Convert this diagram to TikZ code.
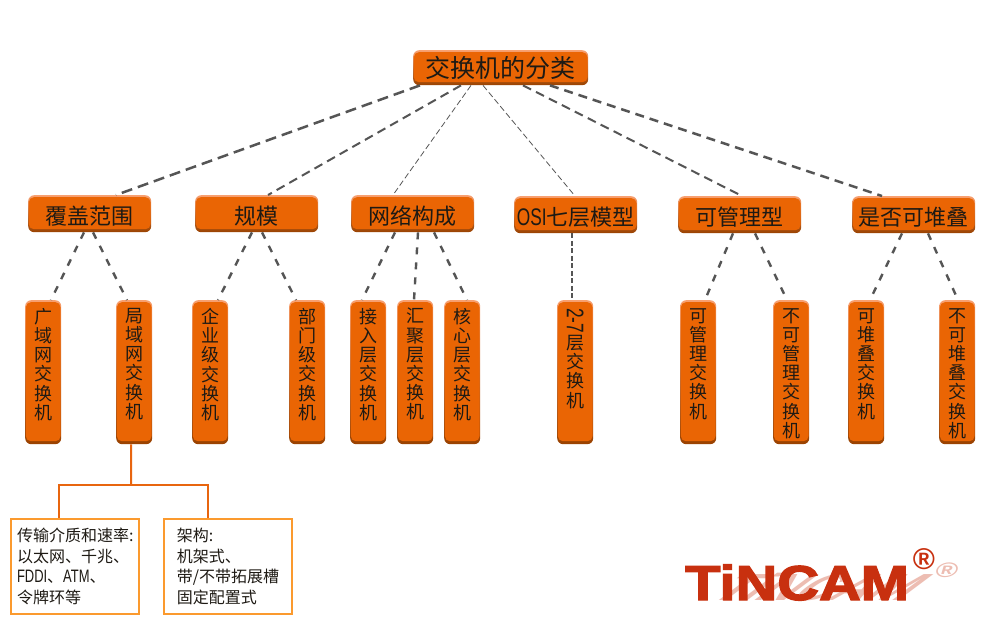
\documentclass[tikz,border=0pt]{standalone}
\usepackage{fontspec}
\setmainfont{Noto Sans CJK SC}
\newfontfamily\narrowlat[FakeStretch=0.72]{Liberation Sans}
\newfontfamily\logofont[FakeBold=2.5]{Liberation Sans Bold}
\newfontfamily\regfont{Liberation Sans Bold}
\definecolor{plate}{HTML}{EA6504}
\definecolor{plateTop}{HTML}{F8A070}
\definecolor{plateBot}{HTML}{9A4200}
\definecolor{ink}{HTML}{1E1A14}
\definecolor{dashink}{HTML}{555555}
\definecolor{treeline}{HTML}{E8650F}
\definecolor{infoline}{HTML}{FB9A2E}
\definecolor{logored}{HTML}{C8300F}
\definecolor{logopink}{HTML}{EDBDB2}
\newcommand{\vstack}[1]{\parbox[c][128pt][t]{36pt}{\centering #1}}
\tikzset{
  plated/.style={anchor=north west, inner sep=0pt, rounded corners=6pt, text=ink,
    top color=plateTop, bottom color=plateBot,
    path picture={\fill[plate, rounded corners=5pt]
      ([xshift=0.7pt,yshift=-2pt]path picture bounding box.north west) rectangle
      ([xshift=-0.7pt,yshift=3pt]path picture bounding box.south east);}},
  rootbox/.style={plated, minimum width=175pt, minimum height=35pt, font=\fontsize{25}{25}\selectfont},
  catbox/.style={plated, minimum width=123pt, minimum height=37pt, text height=21pt, text depth=0pt, font=\fontsize{22}{22}\selectfont},
  leafbox/.style={plated, minimum width=36pt, minimum height=144pt, align=center, font=\fontsize{18}{19.2}\selectfont},
  infobox/.style={anchor=north west, draw=infoline, line width=2pt, minimum height=95pt,
    inner ysep=0pt, align=left, text=ink, font=\fontsize{16}{20.5}\selectfont},
  heavydash/.style={draw=dashink, line width=2.5pt, dash pattern=on 11pt off 6pt},
  middash/.style={draw=dashink, line width=2pt, dash pattern=on 9pt off 5.5pt},
  thindash/.style={draw=dashink, line width=0.8pt, dash pattern=on 6pt off 3pt},
  lowdash/.style={draw=dashink, line width=2.4pt, dash pattern=on 7pt off 8pt},
  treelink/.style={draw=treeline, line width=2pt},
  logotext/.style={font=\logofont\fontsize{49}{49}\selectfont, text=logored, inner sep=0pt, anchor=base west},
}
\begin{document}
\begin{tikzpicture}[x=1pt,y=-1pt]
\useasboundingbox[fill=white] (0,0) rectangle (1000,620);
% logo shadow
\node[font=\regfont\fontsize{49}{49}\selectfont, text=logopink, inner sep=0pt, anchor=base west,
  xscale=1.03, yscale=0.77, xslant=1.0, transform shape] (logoshadow) at (707,600) {TiNCAM};
\node[font=\regfont\fontsize{30}{30}\selectfont, text=logopink, inner sep=0pt,
  xslant=0.3, yscale=0.7, transform shape] (logoshadowreg) at (947,570) {®};
% boxes
\node[rootbox] (root) at (413,50) {交换机的分类};
\node[catbox] (a) at (28,195) {覆盖范围};
\node[catbox] (b) at (195,195) {规模};
\node[catbox] (c) at (351,195) {网络构成};
\node[catbox] (d) at (514,196) {{\narrowlat\fontsize{24}{24}\selectfont OSI}七层模型};
\node[catbox] (e) at (678,196) {可管理型};
\node[catbox] (f) at (852,196) {是否可堆叠};
\node[leafbox] (a1) at (25,300) {\vstack{广\\域\\网\\交\\换\\机}};
\node[leafbox] (a2) at (116,300) {\vstack{局\\域\\网\\交\\换\\机}};
\node[leafbox] (b1) at (192,300) {\vstack{企\\业\\级\\交\\换\\机}};
\node[leafbox] (b2) at (289,300) {\vstack{部\\门\\级\\交\\换\\机}};
\node[leafbox] (c1) at (350,300) {\vstack{接\\入\\层\\交\\换\\机}};
\node[leafbox] (c2) at (397,300) {\vstack{汇\\聚\\层\\交\\换\\机}};
\node[leafbox] (c3) at (444,300) {\vstack{核\\心\\层\\交\\换\\机}};
\node[leafbox] (d1) at (557,300) {\vstack{\rotatebox{-90}{\narrowlat\fontsize{24}{24}\selectfont 2-7}\\[1pt]层\\交\\换\\机}};
\node[leafbox] (e1) at (680,300) {\vstack{可\\管\\理\\交\\换\\机}};
\node[leafbox] (e2) at (773,300) {\vstack{不\\可\\管\\理\\交\\换\\机}};
\node[leafbox] (f1) at (848,300) {\vstack{可\\堆\\叠\\交\\换\\机}};
\node[leafbox] (f2) at (939,300) {\vstack{不\\可\\堆\\叠\\交\\换\\机}};
\node[infobox, minimum width=127.5pt, inner xsep=6pt] (info1) at (10,518) {传输介质和速率:\\以太网、千兆、\\{\narrowlat\fontsize{18}{20.5}\selectfont FDDI}、{\narrowlat\fontsize{18}{20.5}\selectfont ATM}、\\令牌环等};
\node[infobox, minimum width=128pt, inner xsep=10pt] (info2) at (163,518) {架构:\\机架式、\\带/不带拓展槽\\固定配置式};
% top connectors
\draw[heavydash] ([xshift=7pt]root.south west) -- ([xshift=88pt]a.north west);
\draw[middash] ([xshift=48pt]root.south west) -- ([xshift=73pt]b.north west);
\draw[thindash] ([xshift=58pt]root.south west) -- ([xshift=42pt]c.north west);
\draw[thindash] ([xshift=70pt]root.south west) -- ([xshift=61pt]d.north west);
\draw[middash] ([xshift=110pt]root.south west) -- ([xshift=64pt]e.north west);
\draw[heavydash, dash pattern=on 9pt off 6pt] ([xshift=137pt]root.south west) -- ([xshift=30pt]f.north west);
% lower connectors
\draw[lowdash] ([xshift=56pt]a.south west) -- ([xshift=26pt]a1.north west);
\draw[lowdash] ([xshift=65pt]a.south west) -- ([xshift=11pt]a2.north west);
\draw[lowdash] ([xshift=57pt]b.south west) -- ([xshift=26pt]b1.north west);
\draw[lowdash] ([xshift=67pt]b.south west) -- ([xshift=7pt]b2.north west);
\draw[lowdash] ([xshift=44pt]c.south west) -- ([xshift=12pt]c1.north west);
\draw[lowdash] ([xshift=67pt]c.south west) -- ([xshift=17pt]c2.north west);
\draw[lowdash] ([xshift=83pt]c.south west) -- ([xshift=23pt]c3.north west);
\draw[lowdash, dash pattern=on 5pt off 2.5pt] ([xshift=58pt]d.south west) -- ([xshift=15pt]d1.north west);
\draw[lowdash] ([xshift=55pt]e.south west) -- ([xshift=25pt]e1.north west);
\draw[lowdash] ([xshift=77pt]e.south west) -- ([xshift=14pt]e2.north west);
\draw[lowdash] ([xshift=50pt]f.south west) -- ([xshift=22pt]f1.north west);
\draw[lowdash] ([xshift=76pt]f.south west) -- ([xshift=19pt]f2.north west);
% tree
\coordinate (fork) at (131,485);
\draw[treelink] ([xshift=-3pt]a2.south) -- (fork);
\draw[treelink] ([xshift=49pt]info1.north west) |- (fork);
\draw[treelink] ([xshift=45pt]info2.north west) |- (fork);
% logo
\node[logotext, xscale=1.18, transform shape] (logo) at (685,600) {TiNCAM};
\node[font=\regfont\fontsize{30}{30}\selectfont, text=logored, inner sep=0pt] (logoreg) at (924,559) {®};
\end{tikzpicture}
\end{document}
